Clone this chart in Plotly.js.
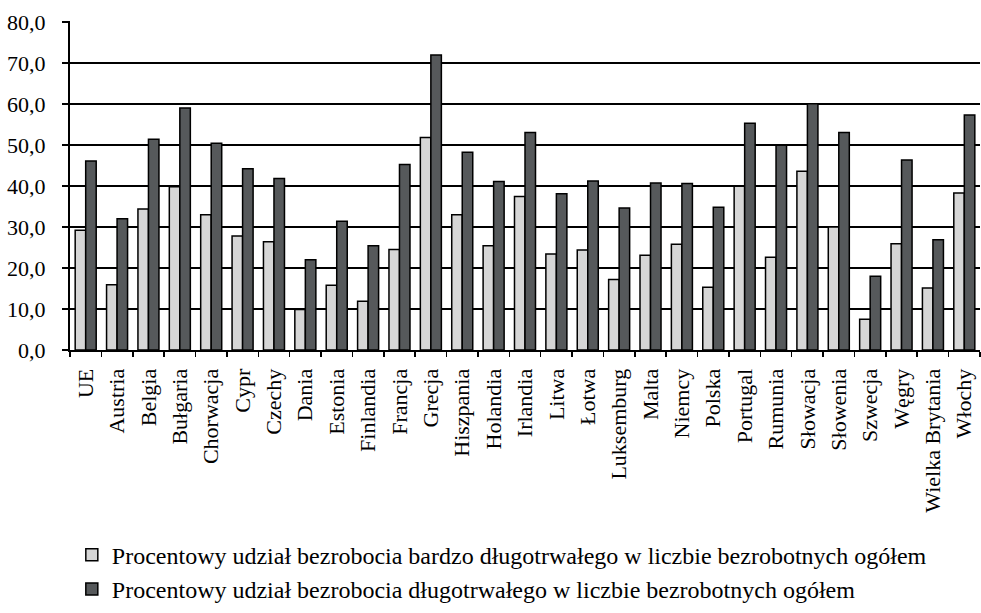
<!DOCTYPE html>
<html>
<head>
<meta charset="utf-8">
<script src="https://cdn.plot.ly/plotly-3.0.1.min.js"></script>
<style>html,body{margin:0;padding:0;background:#fff;}#chart{width:981px;height:613px;}</style>
</head>
<body>
<div id="chart"></div>
<script>
const categories = ["UE","Austria","Belgia","Bułgaria","Chorwacja","Cypr","Czechy","Dania","Estonia","Finlandia","Francja","Grecja","Hiszpania","Holandia","Irlandia","Litwa","Łotwa","Luksemburg","Malta","Niemcy","Polska","Portugal","Rumunia","Słowacja","Słowenia","Szwecja","Węgry","Wielka Brytania","Włochy"];
const veryLongTerm = [29.2,15.9,34.4,39.8,33.0,27.8,26.4,9.9,15.8,11.9,24.5,51.8,33.0,25.4,37.4,23.4,24.4,17.2,23.1,25.8,15.3,39.9,22.6,43.6,30.0,7.5,25.9,15.1,38.3];
const longTerm = [46.1,32.0,51.4,59.0,50.4,44.2,41.8,22.0,31.4,25.4,45.2,71.9,48.2,41.1,53.0,38.1,41.2,34.6,40.7,40.6,34.8,55.3,49.9,60.0,53.0,18.0,46.3,26.9,57.3];
const seriesNames = ["Procentowy udział bezrobocia bardzo długotrwałego w liczbie bezrobotnych ogółem","Procentowy udział bezrobocia długotrwałego w liczbie bezrobotnych ogółem"];
const yTicks = [0,10,20,30,40,50,60,70,80];

const fam = "Liberation Serif, Times New Roman, serif";
const tickFont = {family: fam, size: 22, color: "#000"};
const legendFont = {family: fam, size: 24, color: "#000"};
const traces = [
  {type: "bar", x: categories, y: veryLongTerm, name: seriesNames[0],
   marker: {color: "#d6d6d6", line: {color: "#000", width: 1.5}}},
  {type: "bar", x: categories, y: longTerm, name: seriesNames[1],
   marker: {color: "#56595b", line: {color: "#000", width: 1.5}}}
];
const layout = {
  width: 981, height: 613,
  margin: {l: 70, r: 1, t: 21, b: 253},
  paper_bgcolor: "#fff", plot_bgcolor: "#fff",
  font: {family: fam, size: 22, color: "#000"},
  barmode: "group", bargap: 0.33, bargroupgap: 0,
  showlegend: true,
  legend: {orientation: "v", x: 0.002, xanchor: "left", y: -0.555, yanchor: "top",
           font: legendFont, traceorder: "normal", itemwidth: 30, tracegroupgap: 0,
           bgcolor: "rgba(0,0,0,0)"},
  xaxis: {type: "category", tickangle: -90, ticks: "outside", ticklen: 5, tickwidth: 1.5,
          tickcolor: "#000", tickson: "boundaries", showline: true, linecolor: "#000", linewidth: 2,
          showgrid: false, tickfont: tickFont, automargin: false, ticklabelstandoff: 8},
  yaxis: {range: [0, 80.2], tickvals: yTicks, ticktext: yTicks.map(v => v.toFixed(1).replace(".", ",")),
          ticks: "outside", ticklen: 6, tickwidth: 1.5, tickcolor: "#000",
          showline: true, linecolor: "#000", linewidth: 2,
          showgrid: true, gridcolor: "#000", gridwidth: 2, zeroline: false,
          tickfont: tickFont, automargin: false, ticklabelstandoff: 12}
};
Plotly.newPlot("chart", traces, layout, {displayModeBar: false, staticPlot: true});
</script>
</body>
</html>
